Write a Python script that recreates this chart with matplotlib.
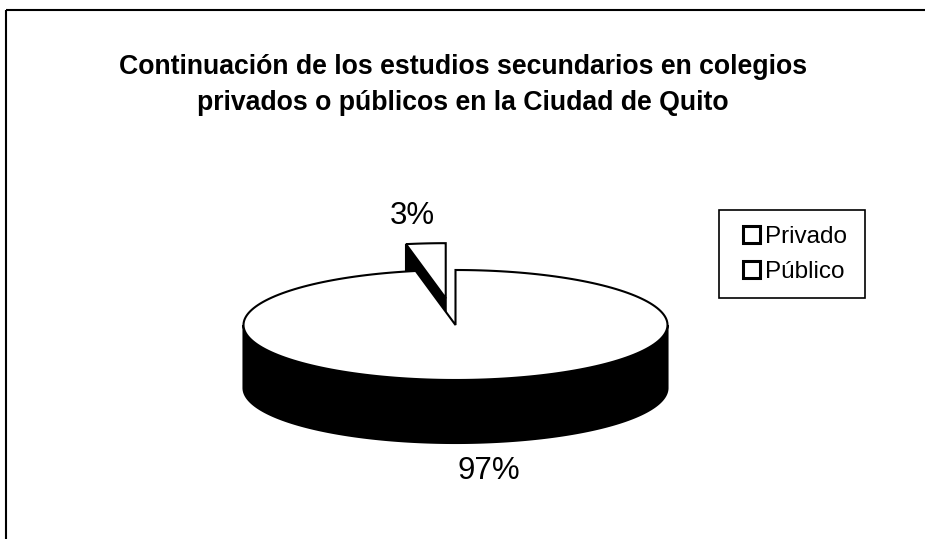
import numpy as np
import matplotlib
matplotlib.use("Agg")
import matplotlib.pyplot as plt
from matplotlib.patches import Polygon, Rectangle, Patch

plt.rcParams["font.family"] = ["Liberation Sans", "DejaVu Sans"]

title_lines = [
    "Continuación de los estudios secundarios en colegios",
    "privados o públicos en la Ciudad de Quito",
]
categories = ["Privado", "Público"]
values = [3, 97]
pct_labels = ["3%", "97%"]

# pie geometry in pixel units (3-D Excel style pie)
cx, cy = 455.5, 325.0
rx, ry = 212.0, 55.0
depth = 63.0
explode = [0.49, 0.0]
start = 90.0


def pt(theta, off=(0.0, 0.0), dz=0.0):
    t = np.radians(theta)
    return (cx + rx * np.cos(t) + off[0], cy - ry * np.sin(t) + off[1] + dz)


def arc(t0, t1, off=(0.0, 0.0), dz=0.0, n=200):
    ts = np.linspace(t0, t1, n)
    return [pt(t, off, dz) for t in ts]


fig = plt.figure(figsize=(9.25, 5.39), dpi=100)
ax = fig.add_axes([0, 0, 1, 1])
ax.set_xlim(0, 925)
ax.set_ylim(539, 0)
ax.axis("off")

# chart frame (cropped on the right and bottom)
ax.add_patch(Rectangle((6, 10), 1000, 600, fill=False, ec="black", lw=1.5))

fracs = np.array(values, dtype=float) / sum(values)
bounds = start + 360 * np.concatenate([[0], np.cumsum(fracs)])
slices = []
for i in range(len(values)):
    t0, t1 = bounds[i], bounds[i + 1]
    mid = np.radians((t0 + t1) / 2)
    off = (explode[i] * rx * np.cos(mid), -explode[i] * ry * np.sin(mid))
    slices.append((t0, t1, off))

# exploded slice (behind) first, then the big slice
order = sorted(range(len(values)), key=lambda i: slices[i][2][1])
for i in order:
    t0, t1, off = slices[i]
    apex = (cx + off[0], cy + off[1])
    # radial side face at end angle, visible when it faces the viewer
    if np.sin(np.radians(t1 + 90)) < 0 and (t1 - t0) < 180:
        outer = pt(t1, off)
        face = [apex, outer, (outer[0], outer[1] + depth), (apex[0], apex[1] + depth)]
        ax.add_patch(Polygon(face, closed=True, fc="black", ec="black", lw=1.5))
    # front outer wall
    for lo, hi in [(max(t0, 180), min(t1, 360)), (max(t0, 540), min(t1, 720))]:
        if hi > lo:
            wall = arc(lo, hi, off) + arc(hi, lo, off, dz=depth)
            ax.add_patch(Polygon(wall, closed=True, fc="black", ec="black", lw=1.5))
    top = [apex] + arc(t0, t1, off)
    ax.add_patch(Polygon(top, closed=True, fc="white", ec="black", lw=1.5, joinstyle="miter"))

# percentage labels
ax.text(412, 216, pct_labels[0], fontsize=22.5, ha="center", va="center")
ax.text(489, 471, pct_labels[1], fontsize=22.5, ha="center", va="center")

# title
fig.text(463 / 925, 1 - 74 / 539, title_lines[0], fontsize=19.2, fontweight="bold",
         ha="center", va="baseline")
fig.text(463 / 925, 1 - 110 / 539, title_lines[1], fontsize=19.2, fontweight="bold",
         ha="center", va="baseline")

# legend: box drawn separately so the entries can sit low like in Excel
ax.add_patch(Rectangle((719, 210), 146, 88, fill=False, ec="black", lw=1.2))
handles = [Patch(fc="white", ec="black", lw=2.2) for _ in categories]
ax.legend(handles, categories, loc="upper left",
          bbox_to_anchor=(743 / 925, 1 - 226 / 539), bbox_transform=fig.transFigure,
          fontsize=17.5, frameon=False,
          handlelength=0.7, handleheight=0.7, handletextpad=0.2,
          borderpad=0, labelspacing=0.55, borderaxespad=0)

fig.savefig("out.png", dpi=100)
